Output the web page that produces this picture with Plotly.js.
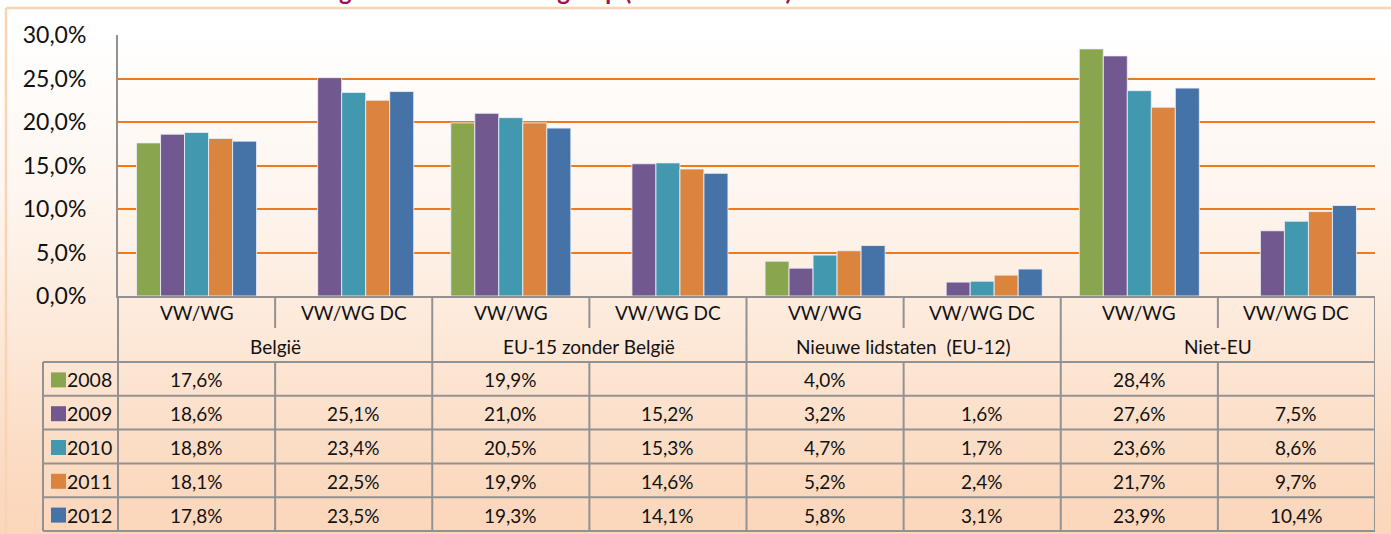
<!DOCTYPE html>
<html>
<head>
<meta charset="utf-8">
<script src="https://cdn.plot.ly/plotly-3.0.1.min.js"></script>
<style>
html, body { margin: 0; padding: 0; background: #ffffff; }
#chart {
  width: 1391px; height: 534px;
  background: linear-gradient(to bottom, #ffffff 0%, #ffffff 6%, #fef6f0 35%, #fdeadb 60%, #fbdcc4 85%, #fbd6ba 100%);
}
</style>
</head>
<body>
<div id="chart"></div>
<script>
// ---- data ----
const years = ['2008', '2009', '2010', '2011', '2012'];
const subLabels = ['VW/WG', 'VW/WG DC', 'VW/WG', 'VW/WG DC', 'VW/WG', 'VW/WG DC', 'VW/WG', 'VW/WG DC'];
const groupLabels = ['België', 'EU-15 zonder België', 'Nieuwe lidstaten  (EU-12)', 'Niet-EU'];
const v2008 = [17.6, null, 19.9, null, 4.0, null, 28.4, null];
const v2009 = [18.6, 25.1, 21.0, 15.2, 3.2, 1.6, 27.6, 7.5];
const v2010 = [18.8, 23.4, 20.5, 15.3, 4.7, 1.7, 23.6, 8.6];
const v2011 = [18.1, 22.5, 19.9, 14.6, 5.2, 2.4, 21.7, 9.7];
const v2012 = [17.8, 23.5, 19.3, 14.1, 5.8, 3.1, 23.9, 10.4];
const titleText = 'Werkloosheidsgraad naar herkomstgroep (2008 tot 2012)';

const series = [v2008, v2009, v2010, v2011, v2012];
const colors = ['#89A54E', '#71588F', '#4198AF', '#DB843D', '#4572A7'];

// ---- geometry (pixels) ----
const W = 1391, H = 534;
const L = 118, R = 16, T = 35, B = 238;
const plotW = W - L - R, plotH = H - T - B;
const px = X => (X - L) / plotW;           // pixel x -> paper x
const py = Y => (H - B - Y) / plotH;       // pixel y -> paper y

const FONT = 'Lato, "Open Sans", sans-serif';
const gridGray = '#929292';
const idx = subLabels.map((_, i) => i);

const traces = series.map((vals, s) => ({
  type: 'bar',
  x: idx,
  y: vals,
  name: years[s],
  marker: { color: colors[s], line: { color: 'rgba(235,240,248,0.85)', width: 1 } },
  hoverinfo: 'skip'
}));

const rowTop = 362, rowH = 33.8;
const rowY = r => rowTop + r * rowH;
const fmt = v => (v === null ? '' : v.toFixed(1).replace('.', ',') + '%');

const shapes = [];
const annotations = [];

// outer frame
shapes.push({ type: 'line', xref: 'paper', yref: 'paper', x0: px(6), x1: px(W + 5), y0: py(8), y1: py(8), line: { color: '#F8D3B4', width: 2.5 } });
shapes.push({ type: 'line', xref: 'paper', yref: 'paper', x0: px(6), x1: px(6), y0: py(8), y1: py(H + 5), line: { color: '#F8D3B4', width: 2.5 } });

// table horizontal lines
for (let r = 0; r <= years.length; r++) {
  shapes.push({ type: 'line', xref: 'paper', yref: 'paper', x0: px(43), x1: 1, y0: py(rowY(r)), y1: py(rowY(r)), line: { color: gridGray, width: 2 } });
}
// legend column left edge
shapes.push({ type: 'line', xref: 'paper', yref: 'paper', x0: px(43), x1: px(43), y0: py(rowTop), y1: py(rowY(years.length)), line: { color: gridGray, width: 2 } });
// left axis extension through table
shapes.push({ type: 'line', xref: 'paper', yref: 'paper', x0: 0, x1: 0, y0: py(296), y1: py(rowY(years.length)), line: { color: gridGray, width: 2 } });
// vertical column lines
for (let k = 1; k <= subLabels.length; k++) {
  const xb = k - 0.5;
  if (k % 2 === 0) {
    shapes.push({ type: 'line', xref: 'x', yref: 'paper', x0: xb, x1: xb, y0: py(296), y1: py(rowY(years.length)), line: { color: gridGray, width: 2 } });
  } else {
    shapes.push({ type: 'line', xref: 'x', yref: 'paper', x0: xb, x1: xb, y0: py(296), y1: py(328), line: { color: gridGray, width: 2 } });
    shapes.push({ type: 'line', xref: 'x', yref: 'paper', x0: xb, x1: xb, y0: py(rowTop), y1: py(rowY(years.length)), line: { color: gridGray, width: 2 } });
  }
}

// sub labels
subLabels.forEach((t, i) => {
  annotations.push({ xref: 'x', yref: 'paper', x: i, y: py(312), text: t, showarrow: false, xanchor: 'center', yanchor: 'middle', font: { family: FONT, size: 19, color: '#111111' } });
});
// group labels
groupLabels.forEach((t, g) => {
  annotations.push({ xref: 'x', yref: 'paper', x: 2 * g + 0.5, y: py(346), text: t, showarrow: false, xanchor: 'center', yanchor: 'middle', font: { family: FONT, size: 19, color: '#111111' } });
});
// data rows
series.forEach((vals, s) => {
  const yc = rowY(s) + rowH / 2;
  shapes.push({ type: 'rect', xref: 'paper', yref: 'paper', x0: px(51), x1: px(66), y0: py(yc - 6.5), y1: py(yc + 8.5), fillcolor: colors[s], line: { width: 0 } });
  annotations.push({ xref: 'paper', yref: 'paper', x: px(65), y: py(yc + 1), text: years[s], showarrow: false, xanchor: 'left', yanchor: 'middle', font: { family: FONT, size: 19.5, color: '#111111' } });
  vals.forEach((v, i) => {
    if (v === null) return;
    annotations.push({ xref: 'x', yref: 'paper', x: i, y: py(yc + 1), text: fmt(v), showarrow: false, xanchor: 'center', yanchor: 'middle', font: { family: FONT, size: 19, color: '#111111' } });
  });
});

// clipped title at the very top (as in the reference, only its lower edge shows)
annotations.push({ xref: 'paper', yref: 'paper', x: px(794), y: py(-10), text: '<b>' + titleText + '</b>', showarrow: false, xanchor: 'right', yanchor: 'middle', font: { family: FONT, size: 24, color: '#A3104A' } });

const layout = {
  width: W, height: H,
  margin: { l: L, r: R, t: T, b: B, pad: 0 },
  paper_bgcolor: 'rgba(0,0,0,0)',
  plot_bgcolor: 'rgba(0,0,0,0)',
  separators: ',.',
  barmode: 'group',
  bargap: 0.236,
  bargroupgap: 0,
  showlegend: false,
  xaxis: {
    type: 'linear', range: [-0.5, 7.5], showticklabels: false, showgrid: false, zeroline: false,
    showline: true, linecolor: gridGray, linewidth: 2, fixedrange: true
  },
  yaxis: {
    range: [0, 30], dtick: 5, tick0: 0, tickformat: '.1f', ticksuffix: '%',
    showgrid: true, gridcolor: '#EE7A1C', gridwidth: 2, zeroline: false,
    showline: true, linecolor: gridGray, linewidth: 2,
    ticks: '', ticklabelstandoff: 25,
    tickfont: { family: FONT, size: 23, color: '#111111' }, fixedrange: true
  },
  shapes: shapes,
  annotations: annotations
};

Plotly.newPlot('chart', traces, layout, { displayModeBar: false, staticPlot: true });
</script>
</body>
</html>
